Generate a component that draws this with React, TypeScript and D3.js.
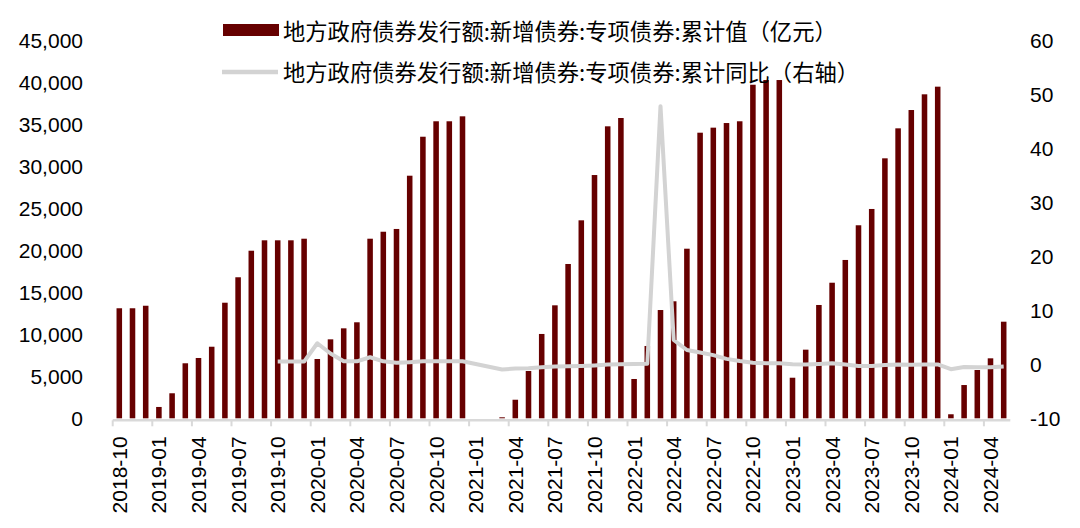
import React from 'react';
import * as d3 from 'd3';

// months 2018-10 .. 2024-05
const months: string[] = d3.timeMonth
  .range(new Date(2018, 9, 1), new Date(2024, 5, 1))
  .map(d3.timeFormat('%Y-%m'));

// 地方政府债券发行额:新增债券:专项债券:累计值（亿元）
const cumValue: number[] = [
  13100, 13100, 13400,
  1350, 2980, 6550, 7180, 8520, 13760, 16790, 19950, 21190, 21190, 21190, 21380,
  7060, 9400, 10710, 11430, 21380, 22210, 22540, 28880, 33520, 35360, 35360, 35950,
  0, 0, 120, 2210, 5630, 10040, 13450, 18370, 23570, 28960, 34760, 35750,
  4680, 8610, 12890, 13930, 20190, 34000, 34600, 35150, 35360, 39710, 40270, 40270,
  4830, 8170, 13490, 16140, 18850, 22980, 24920, 30950, 34520, 36700, 38570, 39480,
  480, 3960, 5750, 7140, 11500,
];

// 累计同比（右轴）
const cumYoY: (number | null)[] = [
  null, null, null,
  null, null, null, null, null, null, null, null, null, 0.5, 0.5, 0.5,
  3.9, 2.0, 0.55, 0.55, 1.3, 0.55, 0.3, 0.4, 0.55, 0.55, 0.55, 0.55,
  null, null, -0.95, -0.8, -0.72, -0.55, -0.42, -0.35, -0.3, -0.2, -0.05, 0,
  0.05, 0.1, 47.8, 4.5, 2.65, 2.2, 1.7, 1.0, 0.6, 0.3, 0.2, 0.2,
  0.0, -0.05, 0.05, 0.2, -0.05, -0.3, -0.3, -0.12, -0.02, -0.08, -0.04, -0.02,
  -0.9, -0.5, -0.55, -0.55, -0.4,
];

const leftTicks = [0, 5000, 10000, 15000, 20000, 25000, 30000, 35000, 40000, 45000];
const rightTicks = [-10, 0, 10, 20, 30, 40, 50, 60];

const legendBar = '地方政府债券发行额:新增债券:专项债券:累计值（亿元）';
const legendLine = '地方政府债券发行额:新增债券:专项债券:累计同比（右轴）';

const W = 1080;
const H = 528;
const plot = { left: 112.7, right: 1010.3, top: 40.3, bottom: 418.3 };
const barColor = '#660000';
const lineColor = '#d3d3d3';
const axisColor = '#d9d9d9';
const font = '"Liberation Sans", Arial, sans-serif';
const cjk = '"Noto Sans CJK SC", sans-serif';

const App = () => {
  const x = d3.scaleBand<string>()
    .domain(months)
    .range([plot.left, plot.right])
    .paddingInner(0.58)
    .paddingOuter(0.29);
  const step = x.step();
  const cx = (m: string) => (x(m) as number) + x.bandwidth() / 2;

  const yL = d3.scaleLinear().domain([0, 45000]).range([plot.bottom, plot.top]);
  const yR = d3.scaleLinear().domain([-10, 60]).range([plot.bottom, plot.top]);

  const linePts = months
    .map((m, i) => ({ m, v: cumYoY[i] }))
    .filter(d => d.v !== null) as { m: string; v: number }[];
  const linePath = d3.line<{ m: string; v: number }>()
    .x(d => cx(d.m))
    .y(d => yR(d.v))(linePts) || '';

  const fmt = d3.format(',');

  return (
    <svg width={W} height={H} style={{ display: 'block', position: 'absolute', left: 0, top: 0 }}>
      <rect width={W} height={H} fill="#fff" />

      {/* bars */}
      {months.map((m, i) => (
        <rect
          key={m}
          x={x(m)}
          y={yL(cumValue[i])}
          width={x.bandwidth()}
          height={plot.bottom - yL(cumValue[i])}
          fill={barColor}
        />
      ))}

      {/* x axis */}
      <line x1={plot.left} x2={plot.right} y1={plot.bottom + 2} y2={plot.bottom + 2}
        stroke={axisColor} strokeWidth={2.5} />
      {months.map((m, i) => (i % 3 === 0 ? (
        <g key={'t' + m}>
          <line x1={cx(m) - step / 2} x2={cx(m) - step / 2} y1={plot.bottom + 2} y2={plot.bottom + 8}
            stroke={axisColor} strokeWidth={2} />
          <text
            transform={`translate(${cx(m)},${plot.bottom + 18}) rotate(-90)`}
            textAnchor="end" dominantBaseline="central"
            fontFamily={font} fontSize={21} fill="#000"
          >{m}</text>
        </g>
      ) : null))}

      {/* line */}
      <path d={linePath} fill="none" stroke={lineColor} strokeWidth={4} strokeLinejoin="round" />

      {/* left axis labels */}
      {leftTicks.map(t => (
        <text key={'l' + t} x={83} y={yL(t)} textAnchor="end" dominantBaseline="central"
          fontFamily={font} fontSize={21} fill="#000">{fmt(t)}</text>
      ))}

      {/* right axis labels */}
      {rightTicks.map(t => (
        <text key={'r' + t} x={1030} y={yR(t)} textAnchor="start" dominantBaseline="central"
          fontFamily={font} fontSize={21} fill="#000">{t}</text>
      ))}

      {/* legend */}
      <rect x={223} y={24} width={56} height={12} fill={barColor} />
      <text x={283} y={30} dominantBaseline="central" fontFamily={cjk} fontSize={22.3} fill="#000">{legendBar}</text>
      <line x1={222} x2={278} y1={72} y2={72} stroke={lineColor} strokeWidth={4.5} />
      <text x={283} y={71} dominantBaseline="central" fontFamily={cjk} fontSize={22.3} fill="#000">{legendLine}</text>
    </svg>
  );
};

export default App;
